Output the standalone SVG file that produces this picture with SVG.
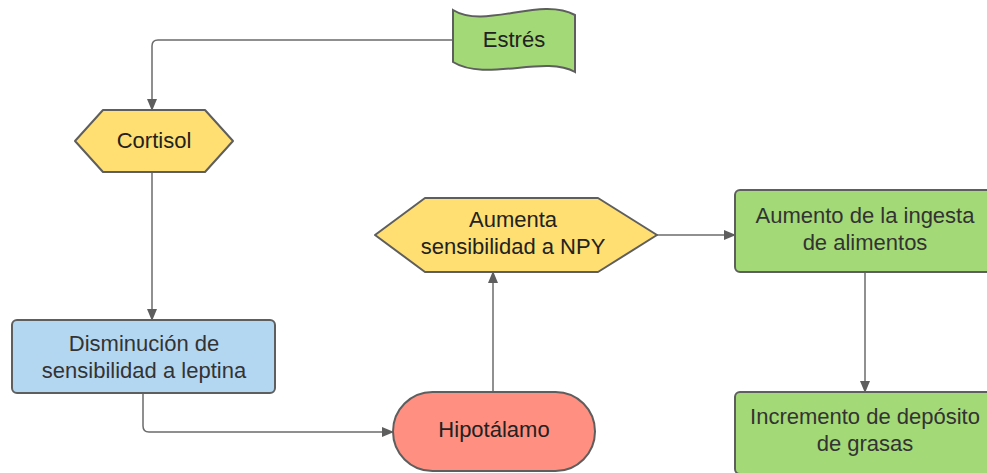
<svg xmlns="http://www.w3.org/2000/svg" width="987" height="473" viewBox="0 0 987 473">
<defs>
<marker id="arr" viewBox="0 0 12 10" refX="11" refY="5" markerWidth="12" markerHeight="10" markerUnits="userSpaceOnUse" orient="auto">
<path d="M0,0 L12,5 L0,10 Z" fill="#5e5e5e"/>
</marker>
<style>
.n{stroke:#5e5e5e;stroke-width:2}
.t{font-family:"Liberation Sans",Arial,sans-serif;font-size:22px;fill:#333;text-anchor:middle}
.d{fill:#222}
.c{fill:none;stroke:#6b6b6b;stroke-width:1.5;marker-end:url(#arr)}
</style>
</defs>
<rect width="987" height="473" fill="#fff"/>
<g id="connectors">
<path class="c" d="M453,40 L158,40 Q152,40 152,46 L152,110"/>
<path class="c" d="M152,172 L152,320"/>
<path class="c" d="M143,393 L143,426 Q143,432 149,432 L393,432"/>
<path class="c" d="M493,392 L493,272"/>
<path class="c" d="M657,235 L735,235"/>
<path class="c" d="M865,272 L865,392"/>
</g>
<g id="estres">
<path class="n" fill="#a3d977" d="M453,10 C485,30 540,-4 575,15 L575,72 C545,55 485,82 453,62 Z"/>
<text class="t d" x="514" y="47">Estrés</text>
</g>
<g id="cortisol">
<polygon class="n" fill="#ffdf71" points="75,141 103,110 205,110 233,141 205,172 103,172" stroke-linejoin="round"/>
<text class="t d" x="154" y="148">Cortisol</text>
</g>
<g id="disminucion">
<rect class="n" fill="#b4d7f1" x="12" y="320" width="263" height="73" rx="5"/>
<text class="t" x="144" y="351">Disminución de</text>
<text class="t" x="144" y="378">sensibilidad a leptina</text>
</g>
<g id="hipotalamo">
<rect class="n" fill="#ff8f80" x="393" y="392" width="202" height="79" rx="39.5"/>
<text class="t d" x="494" y="437">Hipotálamo</text>
</g>
<g id="aumenta">
<polygon class="n" fill="#ffdf71" points="375,235 425,198 598,198 657,235 598,272 425,272" stroke-linejoin="round"/>
<text class="t d" x="513" y="227">Aumenta</text>
<text class="t d" x="513" y="254">sensibilidad a NPY</text>
</g>
<g id="aumento">
<rect class="n" fill="#a3d977" x="735" y="190" width="262" height="82" rx="5"/>
<text class="t" x="865" y="223">Aumento de la ingesta</text>
<text class="t" x="865" y="250">de alimentos</text>
</g>
<g id="incremento">
<rect class="n" fill="#a3d977" x="735" y="392" width="262" height="82" rx="5"/>
<text class="t" x="865" y="424">Incremento de depósito</text>
<text class="t" x="865" y="451">de grasas</text>
</g>
</svg>
